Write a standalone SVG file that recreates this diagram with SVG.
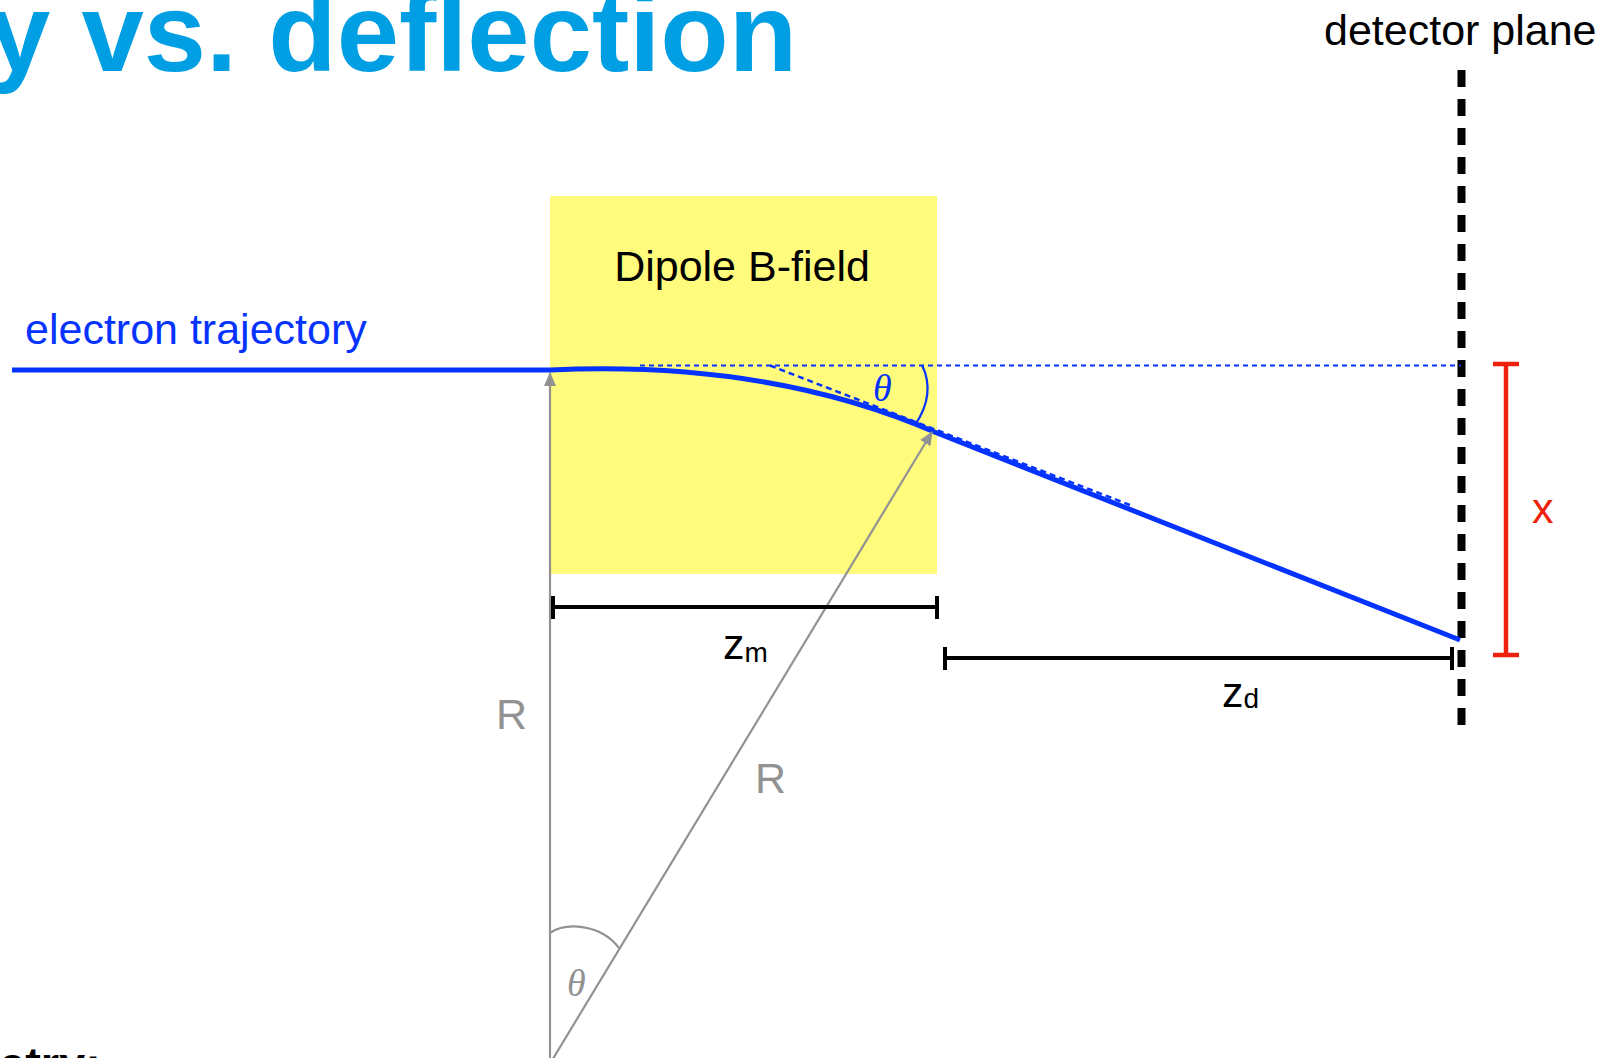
<svg xmlns="http://www.w3.org/2000/svg" width="1606" height="1058" viewBox="0 0 1606 1058">
<style>
.lbl{font-family:"Liberation Sans",Arial,Helvetica,sans-serif;font-size:43px;fill:#000}
.blue{fill:#0433ff}
.gray{fill:#929292}
.red{fill:#ee220c}
.sub{font-size:28px}
.theta{font-family:"Liberation Serif","DejaVu Serif",serif;font-style:italic;font-size:38px}
.dim{stroke:#000;stroke-width:4;fill:none}
.gline{stroke:#929292;stroke-width:2.2;fill:none}
.traj{stroke:#0433ff;stroke-width:5;fill:none}
</style>
<defs>
<marker id="garrow" viewBox="0 0 14 12" refX="13" refY="6" markerWidth="14" markerHeight="12" markerUnits="userSpaceOnUse" orient="auto">
<path d="M0,0 L14,6 L0,12 z" fill="#929292"/>
</marker>
</defs>
<rect width="1606" height="1058" fill="#fff"/>

<g id="title">
<text x="-12" y="71" font-family="Liberation Sans,Arial,sans-serif" font-weight="bold" font-size="112" fill="#009fe3">y vs. deflection</text>
</g>
<g id="bottom-text">
<text x="-1" y="1080" font-family="Liberation Sans,Arial,sans-serif" font-weight="bold" font-size="47" fill="#000">etry:</text>
</g>

<g id="dipole">
<rect x="550" y="196" width="387" height="378" fill="#fffb7d"/>
<text class="lbl" x="742" y="281" text-anchor="middle">Dipole B-field</text>
</g>

<g id="detector">
<line x1="1461.5" y1="70" x2="1461.5" y2="729" stroke="#000" stroke-width="8" stroke-dasharray="17 12"/>
<text class="lbl" x="1324" y="45">detector plane</text>
</g>

<g id="connectors">
<line x1="640" y1="365.5" x2="1461" y2="365.5" stroke="#0433ff" stroke-width="2" stroke-dasharray="5 4"/>
<line x1="770" y1="365.5" x2="1130" y2="505" stroke="#0433ff" stroke-width="2.5" stroke-dasharray="6 4"/>
<path class="traj" d="M12,370 L550,370 Q770,360 937,433 L1460,640"/>
<path d="M922,365 Q936,394 915,425" stroke="#0433ff" stroke-width="2.2" fill="none"/>
<line class="gline" x1="550" y1="1062" x2="550" y2="373" marker-end="url(#garrow)"/>
<line class="gline" x1="551" y1="1062" x2="932" y2="432" marker-end="url(#garrow)"/>
<path class="gline" d="M550,933 C566,922 601,924 619,948" stroke-width="2.5"/>
<path class="dim" d="M553,607 H937 M553,596 V619 M937,596 V619"/>
<path class="dim" d="M945,658 H1452 M945,647 V670 M1452,647 V670"/>
<path d="M1506,364 V655 M1493,364 H1519 M1493,655 H1519" stroke="#ee220c" stroke-width="4.5" fill="none"/>
</g>

<g id="labels">
<text class="lbl blue" x="25" y="344">electron trajectory</text>
<text class="theta blue" x="873" y="401">θ</text>
<text class="theta gray" x="567" y="996">θ</text>
<text class="lbl gray" x="496" y="729" font-size="40">R</text>
<text class="lbl gray" x="755" y="793" font-size="40">R</text>
<text class="lbl" x="723" y="659">z<tspan class="sub" dy="3">m</tspan></text>
<text class="lbl" x="1222" y="707">z<tspan class="sub" dy="1">d</tspan></text>
<text class="lbl red" x="1532" y="523">x</text>
</g>
</svg>
